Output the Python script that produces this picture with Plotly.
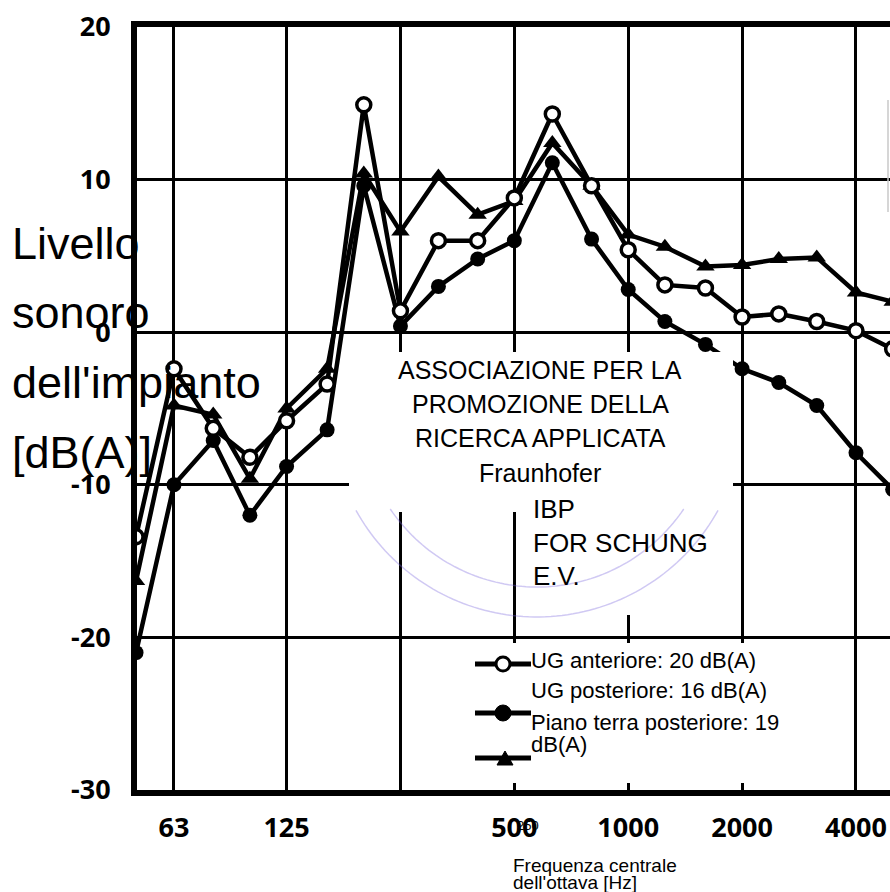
import numpy as np
import plotly.graph_objects as go

# ---------------- data ----------------
freqs = [50, 63, 80, 100, 125, 160, 200, 250, 315, 400, 500, 630, 800,
         1000, 1250, 1600, 2000, 2500, 3150, 4000, 5000]
ug_anteriore = [-13.4, -2.4, -6.3, -8.2, -5.8, -3.4, 14.9, 1.4, 6.0, 6.0, 8.8,
                14.3, 9.6, 5.4, 3.1, 2.9, 1.0, 1.2, 0.7, 0.1, -1.1]
ug_posteriore = [-21.0, -10.0, -7.1, -12.0, -8.8, -6.4, 9.6, 0.4, 3.0, 4.8, 6.0,
                 11.1, 6.1, 2.8, 0.7, -0.8, -2.4, -3.3, -4.8, -7.9, -10.3]
piano_terra = [-16.3, -4.8, -5.4, -9.6, -5.0, -2.4, 10.4, 6.6, 10.2, 7.7, 8.6,
               12.4, 9.6, 6.4, 5.6, 4.3, 4.4, 4.8, 4.9, 2.6, 2.0]

series_names = ["UG anteriore: 20 dB(A)", "UG posteriore: 16 dB(A)",
                "Piano terra posteriore: 19<br>dB(A)"]
x_tick_vals = [63, 125, 250, 500, 1000, 2000, 4000]
x_tick_text = ["63", "125", "", "500", "1000", "2000", "4000"]
y_tick_vals = [-30, -20, -10, 0, 10, 20]
y_tick_text = ["-30", "-20", "-10", "0", "10", "20"]
y_title_lines = ["Livello", "sonoro", "dell'impianto", "[dB(A)]"]
org_lines = ["ASSOCIAZIONE PER LA", "PROMOZIONE DELLA", "RICERCA APPLICATA", "Fraunhofer"]
ibp_lines = ["IBP", "FOR SCHUNG", "E.V."]
x_title_lines = ["Frequenza centrale", "dell'ottava [Hz]"]

# ---------------- geometry helpers (pixels -> paper) ----------------
W, H = 890, 892
L, R, T, B = 137, 890, 27, 790


def px(x):
    return (x - L) / (R - L)


def py(y):
    return (B - y) / (B - T)


FONT = "Liberation Sans, Arial, sans-serif"
TICKFONT = dict(family="Open Sans, Noto Sans, sans-serif", size=27,
                color="black", weight="bold")

fig = go.Figure()

fig.add_trace(go.Scatter(
    x=freqs, y=ug_posteriore, mode="lines+markers", name=series_names[1],
    line=dict(color="black", width=4.5),
    marker=dict(symbol="circle", size=15, color="black"), showlegend=False))
fig.add_trace(go.Scatter(
    x=freqs, y=piano_terra, mode="lines+markers", name=series_names[2],
    line=dict(color="black", width=4.5),
    marker=dict(symbol="triangle-up", size=16, color="black"), showlegend=False))
fig.add_trace(go.Scatter(
    x=freqs, y=ug_anteriore, mode="lines+markers", name=series_names[0],
    line=dict(color="black", width=4.5),
    marker=dict(symbol="circle", size=14, color="white",
                line=dict(color="black", width=3.5)), showlegend=False))

shapes = []
# white overlay boxes
for (x0, y0, x1, y1) in [(349, 352, 733, 512), (520, 490, 720, 615), (470, 643, 800, 783)]:
    shapes.append(dict(type="rect", xref="paper", yref="paper", layer="above",
                       x0=px(x0), x1=px(x1), y0=py(y1), y1=py(y0),
                       fillcolor="white", line=dict(width=0)))

# faint stamp arcs
for r, a0, a1 in [(207, 29, 151), (177, 34, 146)]:
    th = np.radians(np.linspace(a0, a1, 80))
    xs = 537 + r * np.cos(th)
    ys = 410 + r * np.sin(th)
    path = "M " + " L ".join(f"{px(a):.5f},{py(b):.5f}" for a, b in zip(xs, ys))
    shapes.append(dict(type="path", xref="paper", yref="paper", layer="above",
                       path=path, line=dict(color="rgba(120,100,220,0.35)", width=1.5)))

# thin edge line at right
shapes.append(dict(type="line", xref="paper", yref="paper", layer="above",
                   x0=px(888), x1=px(888), y0=py(212), y1=py(100),
                   line=dict(color="#c8c8c8", width=1.5)))

# legend swatches
for yy in [664, 713, 758]:
    shapes.append(dict(type="line", xref="paper", yref="paper", layer="above",
                       x0=px(475), x1=px(531), y0=py(yy), y1=py(yy),
                       line=dict(color="black", width=5)))
shapes.append(dict(type="circle", xref="paper", yref="paper", layer="above",
                   xsizemode="pixel", ysizemode="pixel",
                   xanchor=px(503), yanchor=py(664), x0=-7, x1=7, y0=-7, y1=7,
                   fillcolor="white", line=dict(color="black", width=3)))
shapes.append(dict(type="circle", xref="paper", yref="paper", layer="above",
                   xsizemode="pixel", ysizemode="pixel",
                   xanchor=px(503), yanchor=py(713), x0=-8, x1=8, y0=-8, y1=8,
                   fillcolor="black", line=dict(color="black", width=1)))
shapes.append(dict(type="path", xref="paper", yref="paper", layer="above",
                   xsizemode="pixel", ysizemode="pixel",
                   xanchor=px(505), yanchor=py(758),
                   path="M -8,-7 L 8,-7 L 0,7 Z",
                   fillcolor="black", line=dict(color="black", width=1)))

annotations = []


def txt(s, x, baseline, size, xanchor="left", family=FONT, weight="normal"):
    annotations.append(dict(
        text=s, x=px(x), y=py(baseline - 0.35 * size), xref="paper", yref="paper",
        xanchor=xanchor, yanchor="middle", showarrow=False,
        font=dict(family=family, size=size, color="black", weight=weight)))


for s, b in zip(y_title_lines, [259, 328, 398, 468]):
    txt(s, 10, b, 45)
for s, b in zip(org_lines, [379, 413, 447, 482]):
    txt(s, 540, b, 25, xanchor="center")
for s, b in zip(ibp_lines, [518, 552, 585]):
    txt(s, 531, b, 26)
txt("UG anteriore: 20 dB(A)", 529, 668, 22)
txt("UG posteriore: 16 dB(A)", 529, 698, 22)
txt("Piano terra posteriore: 19", 529, 730, 22)
txt("dB(A)", 529, 752, 22)
for s, b in zip(x_title_lines, [872, 889]):
    txt(s, 511, b, 19)
txt("250", 528, 830, 13, xanchor="center")

fig.update_layout(
    width=W, height=H,
    margin=dict(l=L, r=W - R, t=T, b=H - B, pad=0),
    paper_bgcolor="white", plot_bgcolor="white",
    showlegend=False,
    shapes=shapes, annotations=annotations,
    xaxis=dict(type="log", range=[np.log10(50.3), np.log10(4920)],
               tickvals=x_tick_vals, ticktext=x_tick_text,
               showgrid=True, gridcolor="black", gridwidth=2.5,
               showline=True, linecolor="black", linewidth=6, mirror=True,
               ticks="", ticklabelstandoff=9, tickfont=TICKFONT,
               zeroline=False),
    yaxis=dict(range=[-30, 20], tickvals=y_tick_vals, ticktext=y_tick_text,
               showgrid=True, gridcolor="black", gridwidth=2.5,
               showline=True, linecolor="black", linewidth=6, mirror=False,
               ticks="", ticklabelstandoff=15, tickfont=TICKFONT,
               zeroline=False),
)

fig.write_html("out.html",
               config={"displayModeBar": False},
               post_script="document.body.style.margin='0';document.body.style.overflow='hidden';")
